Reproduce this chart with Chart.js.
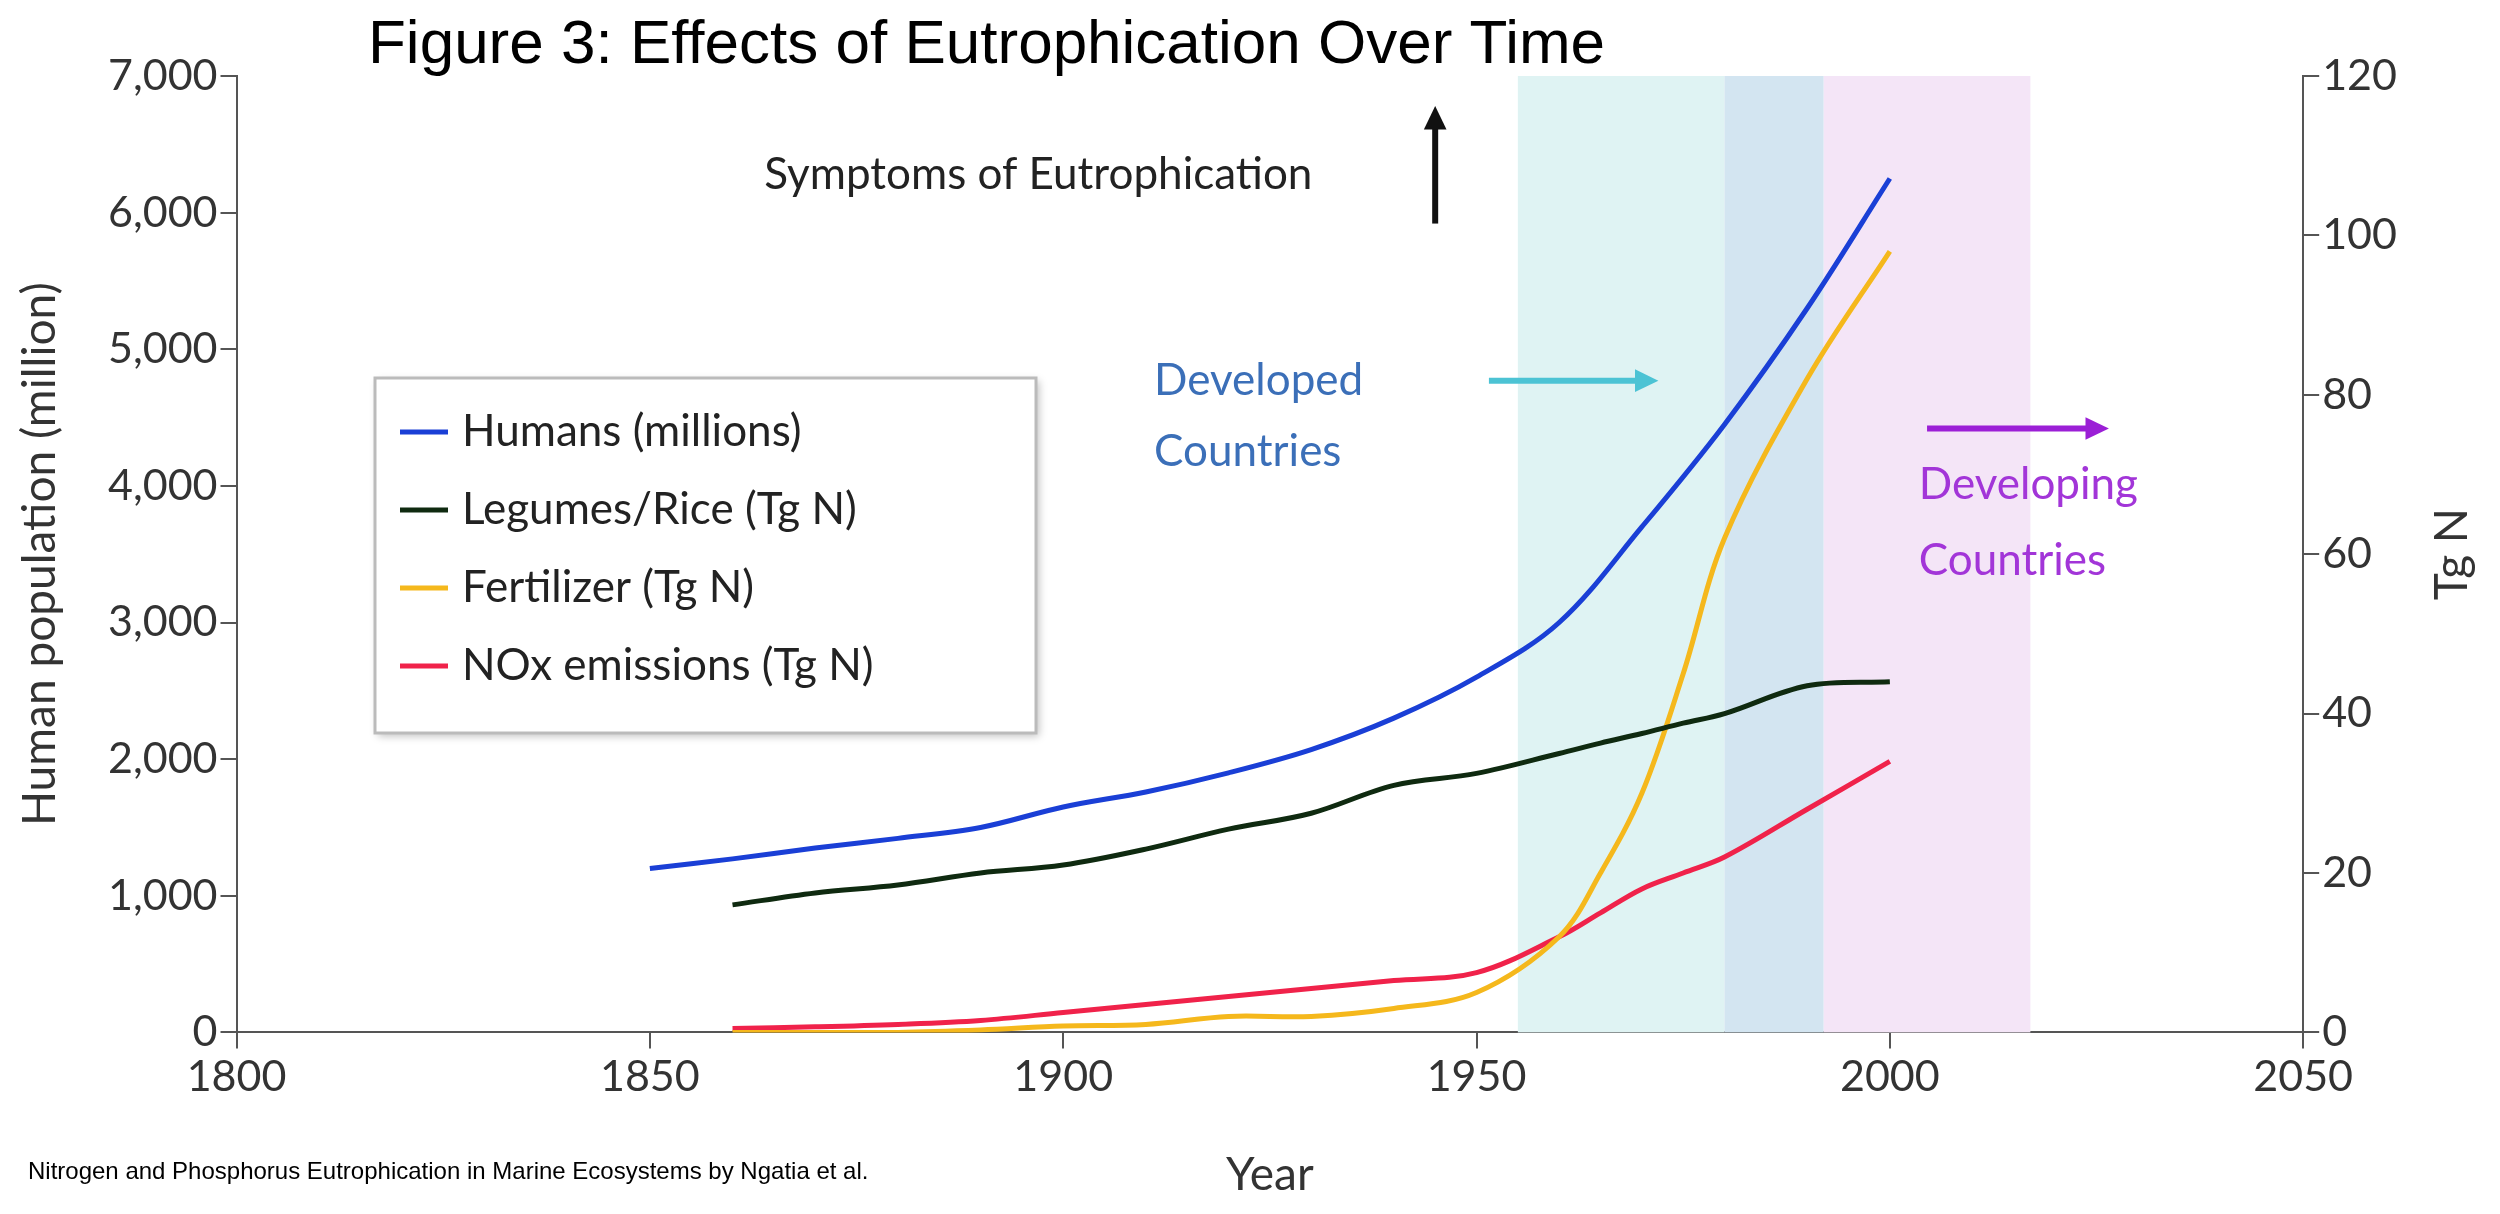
<!DOCTYPE html>
<html>
<head>
<meta charset="utf-8">
<script src="https://cdn.jsdelivr.net/npm/chart.js@4.4.1/dist/chart.umd.min.js"></script>
<style>
  html, body { margin: 0; padding: 0; background: #fff; }
  #wrap { width: 2500px; height: 1214px; position: relative; }
</style>
</head>
<body>
<div id="wrap"><canvas id="chart"></canvas></div>
<script>
// ---------- data ----------
const humanYears = [1850, 1860, 1870, 1880, 1890, 1900, 1910, 1920, 1930, 1940, 1950, 1960, 1970, 1980, 1990, 2000];
const humans = [1200, 1270, 1350, 1420, 1500, 1650, 1760, 1900, 2070, 2300, 2600, 3000, 3700, 4450, 5300, 6250];

const tgYears = [1860, 1870, 1880, 1890, 1900, 1910, 1920, 1930, 1940, 1950, 1960, 1965, 1970, 1975, 1980, 1990, 2000];
const legumes = [16, 17.5, 18.5, 20, 21, 23, 25.5, 27.5, 31, 32.5, 35, 36.3, 37.5, 38.8, 40, 43.5, 44];
const fertilizer = [0, 0, 0, 0.3, 0.8, 1, 2, 2, 3, 5, 12, 20, 30, 45, 62, 82, 98];
const nox = [0.5, 0.7, 1, 1.5, 2.5, 3.5, 4.5, 5.5, 6.5, 7.5, 12, 15, 18, 20, 22, 28, 34];

const bands = [
  { from: 1955, to: 1980, color: '#dff3f3' },
  { from: 1980, to: 1992, color: '#d3e5f1' },
  { from: 1992, to: 2017, color: '#f4e5f7' }
];

const legendItems = [
  ['Humans (millions)', '#1a3fd6'],
  ['Legumes/Rice (Tg N)', '#0f2a10'],
  ['Fertilizer (Tg N)', '#f5b81c'],
  ['NOx emissions (Tg N)', '#f0224a']
];

const pts = (xs, ys) => xs.map((x, i) => ({ x, y: ys[i] }));
const FONT = 'Lato, "Open Sans", sans-serif';

// ---------- helpers ----------
function arrow(ctx, x1, y1, x2, y2, color, w, head) {
  const a = Math.atan2(y2 - y1, x2 - x1);
  ctx.save();
  ctx.strokeStyle = color; ctx.fillStyle = color; ctx.lineWidth = w;
  ctx.beginPath(); ctx.moveTo(x1, y1);
  ctx.lineTo(x2 - Math.cos(a) * head * 0.8, y2 - Math.sin(a) * head * 0.8); ctx.stroke();
  ctx.beginPath(); ctx.moveTo(x2, y2);
  ctx.lineTo(x2 - head * Math.cos(a - 0.45), y2 - head * Math.sin(a - 0.45));
  ctx.lineTo(x2 - head * Math.cos(a + 0.45), y2 - head * Math.sin(a + 0.45));
  ctx.closePath(); ctx.fill();
  ctx.restore();
}

const bandsPlugin = {
  id: 'bands',
  beforeDatasetsDraw(chart) {
    const { ctx, chartArea, scales } = chart;
    ctx.save();
    bands.forEach(b => {
      const x1 = scales.x.getPixelForValue(b.from), x2 = scales.x.getPixelForValue(b.to);
      ctx.fillStyle = b.color;
      ctx.fillRect(x1, chartArea.top, x2 - x1, chartArea.bottom - chartArea.top);
    });
    ctx.restore();
  }
};

const decorPlugin = {
  id: 'decor',
  afterDraw(chart) {
    const { ctx, scales, chartArea } = chart;
    const X = v => scales.x.getPixelForValue(v), Y = v => scales.y.getPixelForValue(v);
    ctx.save();
    // title
    ctx.fillStyle = '#000';
    ctx.font = '62px "Liberation Sans", Arial, sans-serif';
    ctx.textBaseline = 'middle'; ctx.textAlign = 'left';
    ctx.fillText('Figure 3: Effects of Eutrophication Over Time', 368, 46);

    // axis titles
    ctx.font = '46px ' + FONT; ctx.fillStyle = '#333'; ctx.textAlign = 'center';
    ctx.save(); ctx.translate(40, (chartArea.top + chartArea.bottom) / 2); ctx.rotate(-Math.PI / 2);
    ctx.fillText('Human population (million)', 0, 0); ctx.restore();
    ctx.save(); ctx.translate(2452, Y(3500)); ctx.rotate(-Math.PI / 2);
    ctx.fillText('Tg N', 0, 0); ctx.restore();
    ctx.fillText('Year', X(1925), 1175);

    // annotations
    ctx.font = '44px ' + FONT; ctx.fillStyle = '#222'; ctx.textAlign = 'center';
    ctx.fillText('Symptoms of Eutrophication', X(1897), Y(6280));
    arrow(ctx, X(1945), Y(5920), X(1945), Y(6780), '#111', 6, 26);

    ctx.fillStyle = '#3b6fb8'; ctx.textAlign = 'left';
    ctx.fillText('Developed', X(1911), Y(4770));
    ctx.fillText('Countries', X(1911), Y(4250));
    arrow(ctx, X(1951.5), Y(4770), X(1972), Y(4770), '#4cc3d4', 6, 26);

    ctx.fillStyle = '#a235d8';
    ctx.fillText('Developing', X(2003.5), Y(4010));
    ctx.fillText('Countries', X(2003.5), Y(3450));
    arrow(ctx, X(2004.5), Y(4420), X(2026.5), Y(4420), '#9b1fd6', 6, 26);

    // legend box
    ctx.fillStyle = '#fff'; ctx.strokeStyle = '#bbb'; ctx.lineWidth = 3;
    ctx.shadowColor = 'rgba(0,0,0,0.25)'; ctx.shadowBlur = 8; ctx.shadowOffsetX = 3; ctx.shadowOffsetY = 3;
    ctx.fillRect(375, 378, 661, 355);
    ctx.shadowColor = 'transparent';
    ctx.strokeRect(375, 378, 661, 355);
    ctx.font = '44px ' + FONT;
    legendItems.forEach(([label, color], i) => {
      const y = 432 + i * 78;
      ctx.strokeStyle = color; ctx.lineWidth = 5;
      ctx.beginPath(); ctx.moveTo(400, y); ctx.lineTo(448, y); ctx.stroke();
      ctx.fillStyle = '#222'; ctx.fillText(label, 462, y);
    });

    // source
    ctx.font = '24px "Liberation Sans", Arial, sans-serif'; ctx.fillStyle = '#000';
    ctx.fillText('Nitrogen and Phosphorus Eutrophication in Marine Ecosystems by Ngatia et al.', 28, 1172);
    ctx.restore();
  }
};

// ---------- chart ----------
const line = (label, data, color, axis) => ({
  label, data, borderColor: color, backgroundColor: color, yAxisID: axis,
  borderWidth: 5, pointRadius: 0, tension: 0.35, fill: false
});

const tickFont = { family: FONT, size: 43 };
const axisGrid = { drawOnChartArea: false, color: '#555', tickLength: 16, lineWidth: 2 };

new Chart(document.getElementById('chart'), {
  type: 'line',
  data: {
    datasets: [
      line('Humans (millions)', pts(humanYears, humans), '#1a3fd6', 'y'),
      line('Legumes/Rice (Tg N)', pts(tgYears, legumes), '#0f2a10', 'y1'),
      line('Fertilizer (Tg N)', pts(tgYears, fertilizer), '#f5b81c', 'y1'),
      line('NOx emissions (Tg N)', pts(tgYears, nox), '#f0224a', 'y1')
    ]
  },
  options: {
    responsive: true,
    maintainAspectRatio: false,
    animation: false,
    layout: { padding: { top: 76, right: 100, bottom: 108, left: 105 } },
    plugins: { legend: { display: false }, tooltip: { enabled: false } },
    scales: {
      x: {
        type: 'linear', min: 1800, max: 2050,
        ticks: { stepSize: 50, font: tickFont, color: '#333', callback: v => v },
        grid: axisGrid, border: { color: '#555', width: 2 }
      },
      y: {
        position: 'left', min: 0, max: 7000,
        ticks: { stepSize: 1000, font: tickFont, color: '#333', callback: v => v.toLocaleString('en-US') },
        grid: axisGrid, border: { color: '#555', width: 2 }
      },
      y1: {
        position: 'right', min: 0, max: 120,
        ticks: { stepSize: 20, font: tickFont, color: '#333' },
        grid: axisGrid, border: { color: '#555', width: 2 }
      }
    }
  },
  plugins: [bandsPlugin, decorPlugin]
});
</script>
</body>
</html>
